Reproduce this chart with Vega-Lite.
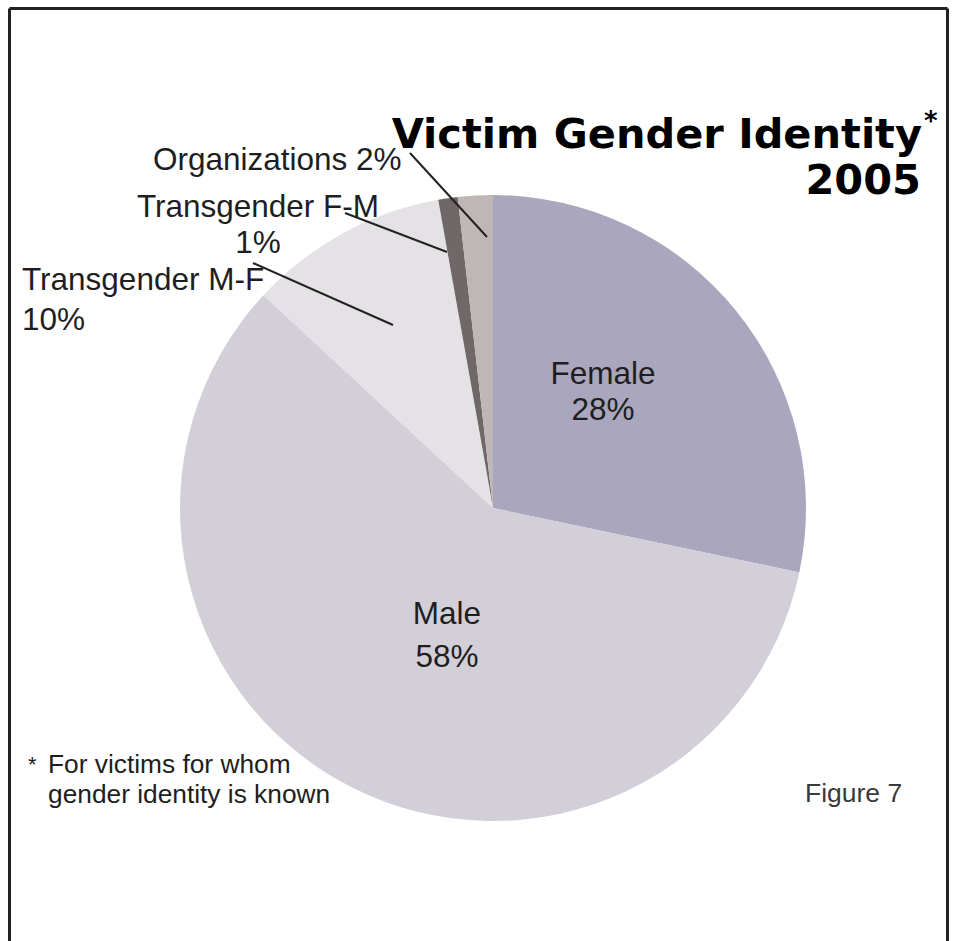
{
  "$schema": "https://vega.github.io/schema/vega-lite/v6.json",
  "autosize": {"type": "none"},
  "width": 626,
  "height": 626,
  "padding": {"left": 180, "top": 195, "right": 150, "bottom": 120},
  "background": "white",
  "config": {"view": {"stroke": null}},
  "datasets": {
    "slices": [
      {"category": "Female", "value": 28.3, "order": 1},
      {"category": "Male", "value": 58.6, "order": 2},
      {"category": "Transgender M-F", "value": 10.3, "order": 3},
      {"category": "Transgender F-M", "value": 1.0, "order": 4},
      {"category": "Organizations", "value": 1.8, "order": 5}
    ],
    "titleText": [
      {"text": "Victim Gender Identity", "x": 1.3706, "y": 1.1502},
      {"text": "2005", "x": 1.3674, "y": 1.0032}
    ],
    "titleStar": [
      {"text": "*", "x": 1.377, "y": 1.2077}
    ],
    "labelsCenter": [
      {"text": "Transgender F-M", "x": -0.7508, "y": 0.9297},
      {"text": "1%", "x": -0.7508, "y": 0.8147},
      {"text": "Female", "x": 0.3514, "y": 0.3962},
      {"text": "28%", "x": 0.3514, "y": 0.2812},
      {"text": "Male", "x": -0.147, "y": -0.3706},
      {"text": "58%", "x": -0.147, "y": -0.508}
    ],
    "labelsLeft": [
      {"text": "Organizations 2%", "x": -1.0863, "y": 1.0799},
      {"text": "Transgender M-F", "x": -1.5048, "y": 0.6965},
      {"text": "10%", "x": -1.5048, "y": 0.5687}
    ],
    "noteStar": [
      {"text": "*", "x": -1.4856, "y": -0.8435}
    ],
    "notes": [
      {"text": "For victims for whom", "x": -1.4217, "y": -0.8466},
      {"text": "gender identity is known", "x": -1.4217, "y": -0.9425}
    ],
    "figure": [
      {"text": "Figure 7", "x": 0.9968, "y": -0.9393}
    ],
    "leaders": [
      {"x": -0.2652, "y": 1.1342, "x2": -0.0192, "y2": 0.8658},
      {"x": -0.4728, "y": 0.9425, "x2": -0.147, "y2": 0.8179},
      {"x": -0.7668, "y": 0.7827, "x2": -0.3195, "y2": 0.5847}
    ],
    "frame": [
      {"x": -1.5447, "y": 1.5958, "x2": -1.5447, "y2": -1.7},
      {"x": -1.5447, "y": 1.5958, "x2": 1.4521, "y2": 1.5958},
      {"x": 1.4521, "y": 1.5958, "x2": 1.4521, "y2": -1.7}
    ]
  },
  "layer": [
    {
      "data": {"name": "slices"},
      "mark": {"type": "arc", "radius": 313, "stroke": null},
      "encoding": {
        "theta": {"field": "value", "type": "quantitative", "stack": true},
        "order": {"field": "order", "type": "quantitative"},
        "color": {
          "field": "category",
          "type": "nominal",
          "legend": null,
          "scale": {
            "domain": ["Female", "Male", "Transgender M-F", "Transgender F-M", "Organizations"],
            "range": ["#AAA6BE", "#D2CFD9", "#E4E2E5", "#706868", "#BFB6B6"]
          }
        }
      }
    },
    {
      "data": {"name": "leaders"},
      "mark": {"type": "rule", "stroke": "#222222", "strokeWidth": 2},
      "encoding": {
        "x": {"field": "x", "type": "quantitative", "axis": null, "scale": {"domain": [-1, 1], "nice": false, "zero": false}},
        "y": {"field": "y", "type": "quantitative", "axis": null, "scale": {"domain": [-1, 1], "nice": false, "zero": false}},
        "x2": {"field": "x2"},
        "y2": {"field": "y2"}
      }
    },
    {
      "data": {"name": "frame"},
      "mark": {"type": "rule", "stroke": "#222222", "strokeWidth": 3},
      "encoding": {
        "x": {"field": "x", "type": "quantitative", "axis": null, "scale": {"domain": [-1, 1], "nice": false, "zero": false}},
        "y": {"field": "y", "type": "quantitative", "axis": null, "scale": {"domain": [-1, 1], "nice": false, "zero": false}},
        "x2": {"field": "x2"},
        "y2": {"field": "y2"}
      }
    },
    {
      "data": {"name": "titleText"},
      "mark": {"type": "text", "align": "right", "baseline": "alphabetic", "font": "DejaVu Sans", "fontWeight": "bold", "fontSize": 41.5, "color": "#000000"},
      "encoding": {
        "x": {"field": "x", "type": "quantitative", "axis": null, "scale": {"domain": [-1, 1], "nice": false, "zero": false}},
        "y": {"field": "y", "type": "quantitative", "axis": null, "scale": {"domain": [-1, 1], "nice": false, "zero": false}},
        "text": {"field": "text"}
      }
    },
    {
      "data": {"name": "titleStar"},
      "mark": {"type": "text", "align": "left", "baseline": "alphabetic", "font": "DejaVu Sans", "fontWeight": "bold", "fontSize": 26, "color": "#000000"},
      "encoding": {
        "x": {"field": "x", "type": "quantitative", "axis": null, "scale": {"domain": [-1, 1], "nice": false, "zero": false}},
        "y": {"field": "y", "type": "quantitative", "axis": null, "scale": {"domain": [-1, 1], "nice": false, "zero": false}},
        "text": {"field": "text"}
      }
    },
    {
      "data": {"name": "labelsCenter"},
      "mark": {"type": "text", "align": "center", "baseline": "alphabetic", "font": "Liberation Sans", "fontSize": 31.5, "color": "#1e1e1e"},
      "encoding": {
        "x": {"field": "x", "type": "quantitative", "axis": null, "scale": {"domain": [-1, 1], "nice": false, "zero": false}},
        "y": {"field": "y", "type": "quantitative", "axis": null, "scale": {"domain": [-1, 1], "nice": false, "zero": false}},
        "text": {"field": "text"}
      }
    },
    {
      "data": {"name": "labelsLeft"},
      "mark": {"type": "text", "align": "left", "baseline": "alphabetic", "font": "Liberation Sans", "fontSize": 31.5, "color": "#1e1e1e"},
      "encoding": {
        "x": {"field": "x", "type": "quantitative", "axis": null, "scale": {"domain": [-1, 1], "nice": false, "zero": false}},
        "y": {"field": "y", "type": "quantitative", "axis": null, "scale": {"domain": [-1, 1], "nice": false, "zero": false}},
        "text": {"field": "text"}
      }
    },
    {
      "data": {"name": "noteStar"},
      "mark": {"type": "text", "align": "left", "baseline": "alphabetic", "font": "Liberation Sans", "fontSize": 22, "color": "#1e1e1e"},
      "encoding": {
        "x": {"field": "x", "type": "quantitative", "axis": null, "scale": {"domain": [-1, 1], "nice": false, "zero": false}},
        "y": {"field": "y", "type": "quantitative", "axis": null, "scale": {"domain": [-1, 1], "nice": false, "zero": false}},
        "text": {"field": "text"}
      }
    },
    {
      "data": {"name": "notes"},
      "mark": {"type": "text", "align": "left", "baseline": "alphabetic", "font": "Liberation Sans", "fontSize": 26.3, "color": "#1e1e1e"},
      "encoding": {
        "x": {"field": "x", "type": "quantitative", "axis": null, "scale": {"domain": [-1, 1], "nice": false, "zero": false}},
        "y": {"field": "y", "type": "quantitative", "axis": null, "scale": {"domain": [-1, 1], "nice": false, "zero": false}},
        "text": {"field": "text"}
      }
    },
    {
      "data": {"name": "figure"},
      "mark": {"type": "text", "align": "left", "baseline": "alphabetic", "font": "Liberation Sans", "fontSize": 26.5, "color": "#3a3a3a"},
      "encoding": {
        "x": {"field": "x", "type": "quantitative", "axis": null, "scale": {"domain": [-1, 1], "nice": false, "zero": false}},
        "y": {"field": "y", "type": "quantitative", "axis": null, "scale": {"domain": [-1, 1], "nice": false, "zero": false}},
        "text": {"field": "text"}
      }
    }
  ]
}
